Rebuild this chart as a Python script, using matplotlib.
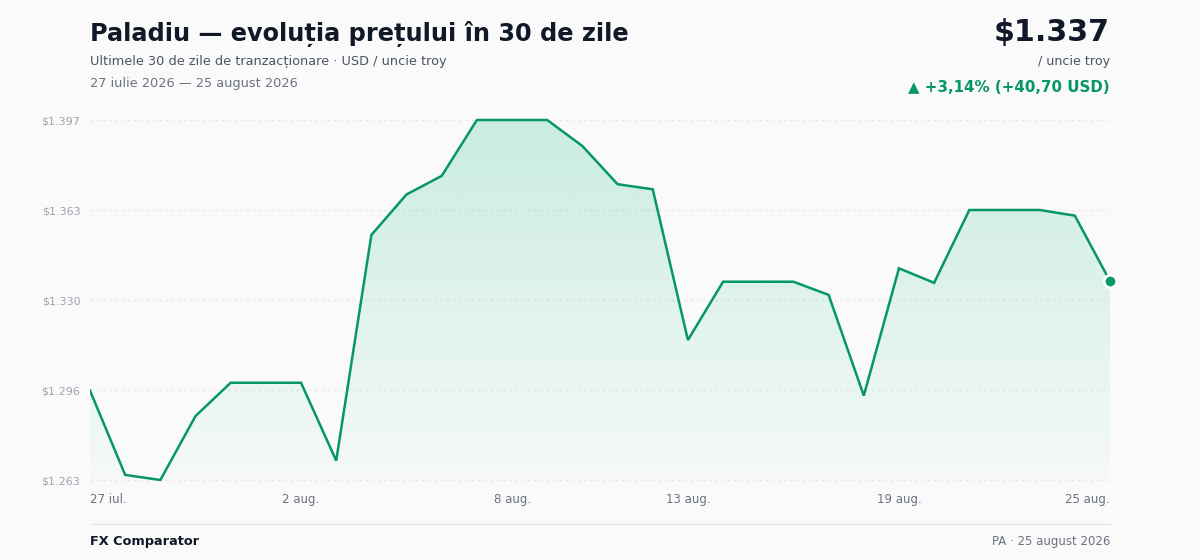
import matplotlib
matplotlib.use("Agg")
import matplotlib.pyplot as plt
import numpy as np

# 30 trading days, 27 Jul -> 25 Aug 2026, USD per troy ounce
PRICES = [
    1296.3, 1264.9, 1263.0, 1286.8, 1299.2, 1299.2, 1299.2, 1270.2,
    1354.2, 1369.3, 1376.2, 1397.0, 1397.0, 1397.0, 1387.3, 1373.1,
    1371.2, 1315.1, 1336.8, 1336.8, 1336.8, 1331.9, 1294.4, 1341.8,
    1336.4, 1363.5, 1363.5, 1363.5, 1361.4, 1337.0,
]
XTICK_POS = [0, 6, 12, 17, 23, 29]
XTICK_LABELS = ["27 iul.", "2 aug.", "8 aug.", "13 aug.", "19 aug.", "25 aug."]

TITLE = "Paladiu — evoluția prețului în 30 de zile"
SUBTITLE = "Ultimele 30 de zile de tranzacționare · USD / uncie troy"
DATE_RANGE = "27 iulie 2026 — 25 august 2026"
PRICE_TEXT = "$1.337"
UNIT_TEXT = "/ uncie troy"
CHANGE_TEXT = "▲ +3,14% (+40,70 USD)"
SOURCE = "FX Comparator"
FOOTNOTE = "PA · 25 august 2026"

GREEN = "#059669"
BG = "#fafafa"


def fmt_price(v):
    s = f"{int(v):,}".replace(",", ".")
    return f"${s}"


def main():
    plt.rcParams["font.family"] = ["DejaVu Sans"]
    fig = plt.figure(figsize=(12, 5.6), dpi=100, facecolor=BG)

    y = np.array(PRICES)
    x = np.arange(len(y))
    lo, hi = y.min(), y.max()
    pad = (hi - lo) * 10 / 360
    yticks = np.linspace(lo, hi, 5)

    ax = fig.add_axes([90 / 1200, 70 / 560, 1020 / 1200, 380 / 560])
    ax.set_facecolor(BG)
    ax.set_xlim(0, len(y) - 1)
    ax.set_ylim(lo - pad, hi + pad)

    for t in yticks:
        ax.axhline(t, color="#e5e7eb", lw=0.9, ls=(0, (2, 3)), zorder=1)

    # gradient area under the line
    poly = ax.fill_between(x, y, lo, color="none", lw=0)
    grad = np.linspace(0.02, 0.21, 256).reshape(-1, 1)
    rgba = np.zeros((256, 1, 4))
    rgba[..., 0] = 16 / 255
    rgba[..., 1] = 185 / 255
    rgba[..., 2] = 129 / 255
    rgba[..., 3] = grad
    img = ax.imshow(rgba, extent=[0, len(y) - 1, lo, hi], origin="lower",
                    aspect="auto", zorder=2, interpolation="bilinear")
    img.set_clip_path(poly.get_paths()[0], transform=ax.transData)

    ax.plot(x, y, color=GREEN, lw=1.8, zorder=3, solid_joinstyle="miter")
    ax.plot(x[-1], y[-1], "o", ms=9, color=GREEN, mec="white", mew=2,
            zorder=4, clip_on=False)

    for s in ax.spines.values():
        s.set_visible(False)
    ax.tick_params(length=0)
    ax.set_yticks(yticks)
    ax.set_yticklabels([fmt_price(t) for t in yticks], color="#9ca3af", fontsize=8)
    ax.tick_params(axis="y", pad=7)
    ax.set_xticks(XTICK_POS)
    labels = ax.set_xticklabels(XTICK_LABELS, color="#6b7280", fontsize=8.5)
    labels[0].set_ha("left")
    labels[-1].set_ha("right")
    ax.tick_params(axis="x", pad=2)

    # header
    fig.text(90 / 1200, 1 - 34 / 560, TITLE, fontsize=17.3, fontweight="bold",
             color="#111827", va="center", ha="left")
    fig.text(90 / 1200, 1 - 61 / 560, SUBTITLE, fontsize=9.25, color="#4b5563",
             va="center", ha="left")
    fig.text(90 / 1200, 1 - 83 / 560, DATE_RANGE, fontsize=9.25, color="#6b7280",
             va="center", ha="left")
    fig.text(1110 / 1200, 1 - 32 / 560, PRICE_TEXT, fontsize=21.7, fontweight="bold",
             color="#111827", va="center", ha="right")
    fig.text(1110 / 1200, 1 - 61 / 560, UNIT_TEXT, fontsize=9.1, color="#4b5563",
             va="center", ha="right")
    fig.text(1110 / 1200, 1 - 87 / 560, CHANGE_TEXT, fontsize=10.8, fontweight="bold",
             color=GREEN, va="center", ha="right")

    # footer
    fig.add_artist(plt.Line2D([90 / 1200, 1110 / 1200], [1 - 524 / 560] * 2,
                              color="#e5e7eb", lw=1))
    fig.text(90 / 1200, 1 - 541 / 560, SOURCE, fontsize=9.25, fontweight="bold",
             color="#111827", va="center", ha="left")
    fig.text(1110 / 1200, 1 - 541 / 560, FOOTNOTE, fontsize=8.5, color="#6b7280",
             va="center", ha="right")

    fig.savefig("out.png", dpi=100, facecolor=BG)
    plt.close(fig)


if __name__ == "__main__":
    main()
